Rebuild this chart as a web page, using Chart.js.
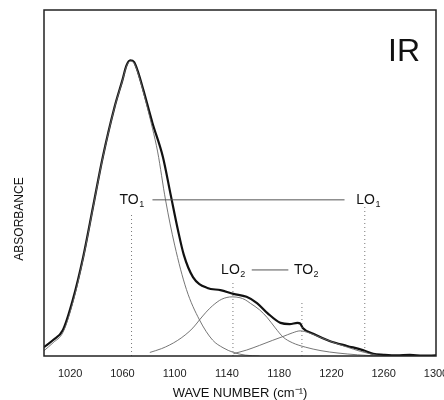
<!DOCTYPE html>
<html>
<head>
<meta charset="utf-8">
<script src="https://cdn.jsdelivr.net/npm/chart.js@4"></script>
<style>
html, body { margin: 0; padding: 0; background: #fff; overflow: hidden; }
</style>
</head>
<body>
<canvas id="chart" width="444" height="400"></canvas>
<script>
'use strict';
// x axis ticks
var xTicks = [1020, 1060, 1100, 1140, 1180, 1220, 1260, 1300];

// measured spectrum (thick line)
var measWn = [1000, 1007, 1014.5, 1022, 1030, 1037.5, 1045, 1054, 1060, 1063, 1066, 1069, 1072, 1076, 1083, 1091, 1097, 1102.5, 1107, 1114, 1125, 1135, 1145, 1155, 1163, 1171, 1181, 1188, 1194, 1196, 1198, 1206, 1219, 1232, 1244, 1252, 1260, 1270, 1280, 1290, 1300];
var measAbs = [0.030, 0.054, 0.088, 0.189, 0.335, 0.504, 0.673, 0.842, 0.933, 0.981, 1.0, 0.994, 0.960, 0.900, 0.788, 0.673, 0.544, 0.426, 0.342, 0.267, 0.230, 0.223, 0.210, 0.200, 0.179, 0.145, 0.112, 0.108, 0.112, 0.110, 0.095, 0.075, 0.050, 0.034, 0.020, 0.007, 0.004, 0.002, 0.004, 0.001, 0.002];

// fitted components (thin lines)
var to1Wn = [1000, 1007, 1014.5, 1022, 1030, 1037.5, 1045, 1054, 1060, 1063, 1066, 1069, 1072, 1076, 1083, 1087, 1093, 1100, 1109, 1119, 1129, 1137, 1145, 1154, 1165];
var to1Abs = [0.018, 0.045, 0.080, 0.180, 0.330, 0.500, 0.670, 0.840, 0.930, 0.978, 0.997, 0.990, 0.955, 0.893, 0.770, 0.690, 0.528, 0.375, 0.225, 0.122, 0.054, 0.028, 0.012, 0.003, 0];
var lo2Wn = [1081, 1090, 1096, 1102, 1108, 1114, 1119, 1124, 1129, 1136, 1144, 1150, 1154, 1158, 1165, 1171, 1177, 1183, 1190, 1200, 1212, 1225, 1240, 1255];
var lo2Abs = [0.012, 0.025, 0.037, 0.052, 0.071, 0.095, 0.122, 0.148, 0.170, 0.192, 0.200, 0.197, 0.190, 0.178, 0.156, 0.129, 0.095, 0.064, 0.045, 0.030, 0.018, 0.010, 0.004, 0];
var to2Wn = [1145, 1155, 1165, 1175, 1183, 1190, 1196, 1203, 1212, 1222, 1232, 1242, 1250, 1258];
var to2Abs = [0.008, 0.020, 0.036, 0.053, 0.066, 0.078, 0.085, 0.078, 0.062, 0.045, 0.030, 0.016, 0.007, 0];

// mode markers: dotted lines and labels
var modeName = ['TO', 'LO', 'LO', 'TO'];
var modeSub = ['1', '1', '2', '2'];
var modeWn = [1067, 1245.5, 1144.6, 1197.4];
var modeTop = [0.484, 0.504, 0.25, 0.183];
var labelWn = [1067, 1248, 1144.6, 1200.5];
var labelAbs = [0.528, 0.528, 0.291, 0.291];
var linkFrom = [1083, 1159];
var linkTo = [1230, 1187];
var linkAbs = [0.528, 0.291];

var FONT = "'Liberation Sans', Arial, sans-serif";

function pts(xs, ys) {
  var out = [];
  for (var i = 0; i < xs.length; i++) out.push({x: xs[i], y: ys[i]});
  return out;
}

var datasets = [];
for (var i = 0; i < modeWn.length; i++) {
  datasets.push({
    data: [{x: modeWn[i], y: 0}, {x: modeWn[i], y: modeTop[i]}],
    borderColor: '#777', borderWidth: 1, borderDash: [1, 3], pointRadius: 0
  });
}
for (var j = 0; j < linkFrom.length; j++) {
  datasets.push({
    data: [{x: linkFrom[j], y: linkAbs[j]}, {x: linkTo[j], y: linkAbs[j]}],
    borderColor: '#555', borderWidth: 1, pointRadius: 0
  });
}
[[to1Wn, to1Abs], [lo2Wn, lo2Abs], [to2Wn, to2Abs]].forEach(function (c) {
  datasets.push({
    data: pts(c[0], c[1]),
    borderColor: '#666', borderWidth: 0.9, pointRadius: 0,
    cubicInterpolationMode: 'monotone'
  });
});
datasets.push({
  data: pts(measWn, measAbs),
  borderColor: '#111', borderWidth: 2.2, pointRadius: 0,
  cubicInterpolationMode: 'monotone'
});

var decor = {
  id: 'decor',
  afterDatasetsDraw: function (chart) {
    var ctx = chart.ctx, a = chart.chartArea;
    var xs = chart.scales.x, ys = chart.scales.y;
    ctx.save();
    ctx.strokeStyle = '#222';
    ctx.lineWidth = 1.5;
    ctx.strokeRect(a.left, a.top, a.right - a.left, a.bottom - a.top);

    ctx.fillStyle = '#111';
    ctx.textBaseline = 'middle';
    for (var i = 0; i < modeName.length; i++) {
      var px = xs.getPixelForValue(labelWn[i]);
      var py = ys.getPixelForValue(labelAbs[i]);
      ctx.font = '14px ' + FONT;
      var w1 = ctx.measureText(modeName[i]).width;
      ctx.font = '9px ' + FONT;
      var w2 = ctx.measureText(modeSub[i]).width;
      var x0 = px - (w1 + w2) / 2;
      ctx.font = '14px ' + FONT;
      ctx.textAlign = 'left';
      ctx.fillText(modeName[i], x0, py);
      ctx.font = '9px ' + FONT;
      ctx.fillText(modeSub[i], x0 + w1 + 0.5, py + 5);
    }
    ctx.font = '32px ' + FONT;
    ctx.textAlign = 'center';
    ctx.fillText('IR', 404, 52);

    // y axis title sits below the middle of the frame in the original
    ctx.translate(20, 219);
    ctx.rotate(-Math.PI / 2);
    ctx.font = '12px ' + FONT;
    ctx.fillText('ABSORBANCE', 0, 0);
    ctx.restore();
  }
};

new Chart(document.getElementById('chart'), {
  type: 'line',
  data: {datasets: datasets},
  options: {
    responsive: false,
    animation: false,
    layout: {padding: {top: 10, right: 8, left: 13, bottom: 0}},
    plugins: {legend: {display: false}, tooltip: {enabled: false}},
    scales: {
      x: {
        type: 'linear', min: 1000, max: 1300,
        grid: {display: false, drawTicks: false},
        border: {display: false},
        afterBuildTicks: function (scale) {
          scale.ticks = xTicks.map(function (v) { return {value: v}; });
        },
        afterFit: function (scale) {
          scale.paddingRight = 0;
          scale.paddingLeft = 0;
          scale.height = 44;
        },
        ticks: {
          color: '#222', padding: 11, maxRotation: 0, autoSkip: false,
          font: {family: FONT, size: 11},
          callback: function (v) { return String(v); }
        },
        title: {
          display: true, text: 'WAVE NUMBER (cm\u207B\u00B9)', color: '#111',
          font: {family: FONT, size: 13}, padding: {top: 0, bottom: -1}
        }
      },
      y: {
        min: 0, max: 1.17,
        grid: {display: false, drawTicks: false},
        border: {display: false},
        ticks: {display: false},
        afterFit: function (scale) {
          scale.width = 31;
        }
      }
    }
  },
  plugins: [decor]
});
</script>
</body>
</html>
